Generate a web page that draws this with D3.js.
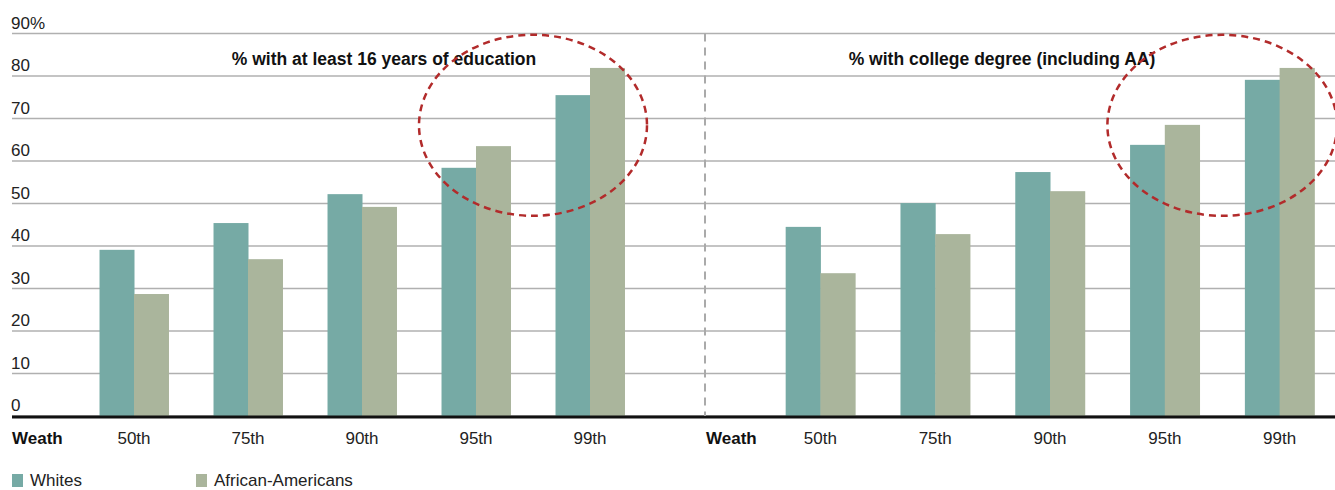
<!DOCTYPE html>
<html><head><meta charset="utf-8">
<script src="https://cdn.jsdelivr.net/npm/d3@7"></script>
<style>body{margin:0;background:#fff}svg{display:block;font-family:"Liberation Sans",Arial,sans-serif}</style>
</head><body><svg id="c" width="1335" height="490"></svg>
<script>
const categories = ["50th","75th","90th","95th","99th"];
const seriesNames = ["Whites","African-Americans"];
const eduWhites = [39.1, 45.4, 52.2, 58.4, 75.5];
const eduAA     = [28.7, 36.9, 49.2, 63.5, 81.9];
const colWhites = [44.5, 50.1, 57.4, 63.8, 79.1];
const colAA     = [33.6, 42.8, 52.9, 68.5, 81.9];
const yTicks = [0,10,20,30,40,50,60,70,80,90];
const panelTitles = ["% with at least 16 years of education","% with college degree (including AA)"];
const axisLabel = "Weath";
const colors = ["#76aaa5","#aab59c"];

const svg = d3.select("#c");
const y = d3.scaleLinear().domain([0,90]).range([416,33.5]);
const FS = 17;

svg.append("g").selectAll("line").data(yTicks).join("line")
  .attr("x1",12).attr("x2",1335).attr("y1",d=>y(d)).attr("y2",d=>y(d))
  .attr("stroke","#b0b0b0").attr("stroke-width",1.5);
svg.append("g").selectAll("text").data(yTicks).join("text")
  .attr("x",11).attr("y",d=>y(d)-5).attr("font-size",FS).attr("fill","#222")
  .text(d=>d===90? d+"%": d);

const panels = [
  {range:[77,647], w:eduWhites, a:eduAA, title:panelTitles[0], tx:384, lx:12},
  {range:[763,1337], w:colWhites, a:colAA, title:panelTitles[1], tx:1002, lx:706}
];

panels.forEach(p=>{
  const x0 = d3.scaleBand().domain(categories).range(p.range).paddingInner(0.395).paddingOuter(0.1975);
  const x1 = d3.scaleBand().domain(seriesNames).range([0,x0.bandwidth()]);
  const rows = categories.map((c,i)=>({c, vals:[p.w[i],p.a[i]]}));
  const g = svg.append("g");
  g.selectAll("g").data(rows).join("g")
    .attr("transform",d=>`translate(${x0(d.c)},0)`)
    .selectAll("rect").data(d=>d.vals.map((v,j)=>({v,s:seriesNames[j],j}))).join("rect")
    .attr("x",d=>x1(d.s)).attr("width",x1.bandwidth()+0.5)
    .attr("y",d=>y(d.v)).attr("height",d=>y(0)-y(d.v)).attr("fill",d=>colors[d.j]);
  g.selectAll("text.xl").data(categories).join("text").attr("class","xl")
    .attr("x",d=>x0(d)+x0.bandwidth()/2).attr("y",443.5).attr("text-anchor","middle")
    .attr("font-size",FS).attr("fill","#222").text(d=>d);
  svg.append("text").attr("x",p.lx).attr("y",443.5).attr("font-size",FS).attr("font-weight","bold")
    .attr("fill","#111").text(axisLabel);
  svg.append("text").attr("x",p.tx).attr("y",64.5).attr("text-anchor","middle").attr("font-size",17.5)
    .attr("font-weight","bold").attr("fill","#111").text(p.title);
  const cx = (x0("95th")+x0("99th"))/2 + x0.bandwidth()/2;
  svg.append("ellipse").attr("cx",cx).attr("cy",y(68.4)).attr("rx",x0.step()).attr("ry",90.5)
    .attr("fill","none").attr("stroke","#b22b2b").attr("stroke-width",2.5).attr("stroke-dasharray","7,5");
});

svg.append("line").attr("x1",12).attr("x2",1335).attr("y1",y(0)+1).attr("y2",y(0)+1)
  .attr("stroke","#111").attr("stroke-width",3);
svg.append("line").attr("x1",705).attr("x2",705).attr("y1",y(90)).attr("y2",y(0))
  .attr("stroke","#aaa").attr("stroke-width",2).attr("stroke-dasharray","8,6");

const leg = svg.append("g").selectAll("g").data(seriesNames).join("g")
  .attr("transform",(d,i)=>`translate(${i===0?12:196},474)`);
leg.append("rect").attr("width",11).attr("height",13).attr("fill",(d,i)=>colors[i]);
leg.append("text").attr("x",18).attr("y",12).attr("font-size",FS).attr("fill","#222").text(d=>d);
</script></body></html>
